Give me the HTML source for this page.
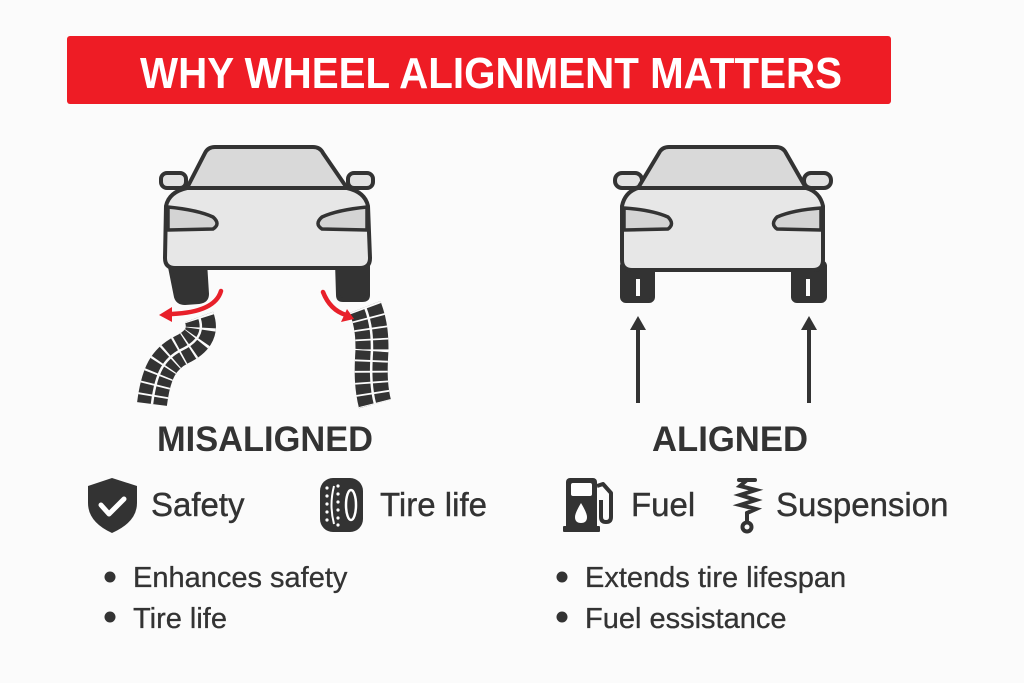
<!DOCTYPE html>
<html><head><meta charset="utf-8">
<style>
html,body{margin:0;padding:0;background:#fbfbfb;}
svg{display:block;}
</style></head>
<body>
<svg width="1024" height="683" viewBox="0 0 1024 683" xmlns="http://www.w3.org/2000/svg" font-family="Liberation Sans, Arial, sans-serif">
<rect width="1024" height="683" fill="#fbfbfb"/>
<!-- Banner -->
<rect x="67" y="36" width="824" height="68" rx="3" fill="#ee1c25"/>
<text x="140" y="88" font-size="44" font-weight="bold" fill="#ffffff" textLength="702" lengthAdjust="spacingAndGlyphs">WHY WHEEL ALIGNMENT MATTERS</text>

<!-- LEFT CAR -->
<g stroke="#333" stroke-width="4" stroke-linejoin="round">
  <rect x="161" y="173" width="25" height="15" rx="6" fill="#e2e2e2"/>
  <rect x="348" y="173" width="25" height="15" rx="6" fill="#e2e2e2"/>
  <path d="M169,262 L205,262 L207,294 Q207,301 199,302 L185,303 Q178,303 176,297 Z" fill="#333"/>
  <path d="M337,262 L368,262 L368,295 Q368,300 362,300 L343,300 Q338,300 338,295 Z" fill="#333"/>
  <path d="M187,188 L205,153 Q208,147 215,147 L313,147 Q320,147 323,153 L347,188 Z" fill="#d9d9d9"/>
  <path d="M187,188 L347,188 Q365,192 368,206 L370,258 Q370,268 360,268 L175,268 Q165,268 165,258 L166,206 Q169,192 187,188 Z" fill="#e7e7e7"/>
  <path d="M168,207 Q198,210 213,217 Q221,224 213,229 L168,230 Z" fill="#d4d4d4" stroke-width="3.5"/>
  <path d="M367,207 Q337,210 322,217 Q314,224 322,229 L367,230 Z" fill="#d4d4d4" stroke-width="3.5"/>
</g>
<!-- tire tracks -->
<g fill="none">
  <path d="M199,317 C205,333 196,343 181,350 C164,359 156,372 152,404" stroke="#333" stroke-width="30"/>
  <path d="M199,317 C205,333 196,343 181,350 C164,359 156,372 152,404" stroke="#fbfbfb" stroke-width="30" stroke-dasharray="1.8 9"/>
  <path d="M199,317 C205,333 196,343 181,350 C164,359 156,372 152,404" stroke="#fbfbfb" stroke-width="2.5"/>
  <path d="M365,307 C372,325 372,340 372,350 C371,365 370,385 375,404" stroke="#333" stroke-width="33"/>
  <path d="M365,307 C372,325 372,340 372,350 C371,365 370,385 375,404" stroke="#fbfbfb" stroke-width="33" stroke-dasharray="1.8 9"/>
  <path d="M365,307 C372,325 372,340 372,350 C371,365 370,385 375,404" stroke="#fbfbfb" stroke-width="2.5"/>
</g>
<!-- red arrows -->
<g fill="none" stroke="#e8202a" stroke-width="4.5" stroke-linecap="round">
  <path d="M221,291 Q215,312 172,314"/>
  <path d="M323,292 Q330,310 346,315"/>
</g>
<path d="M159,315 L172,307 L172,322 Z" fill="#e8202a"/>
<path d="M354,319 L341,322 L347,309 Z" fill="#e8202a"/>

<!-- RIGHT CAR -->
<g stroke="#333" stroke-width="4" stroke-linejoin="round">
  <rect x="615" y="173" width="27" height="15" rx="7" fill="#e2e2e2"/>
  <rect x="804" y="173" width="27" height="15" rx="7" fill="#e2e2e2"/>
  <rect x="622" y="262" width="31" height="39" rx="4" fill="#333"/>
  <rect x="793" y="262" width="32" height="39" rx="4" fill="#333"/>
  <path d="M638,188 L659,153 Q662,147 669,147 L776,147 Q783,147 786,153 L806,188 Z" fill="#d9d9d9"/>
  <path d="M638,188 L806,188 Q820,192 823,206 L823,260 Q823,270 813,270 L632,270 Q622,270 622,260 L622,206 Q625,192 638,188 Z" fill="#e7e7e7"/>
  <path d="M624,208 Q652,210 668,217 Q675,224 668,229 L624,230 Z" fill="#d4d4d4" stroke-width="3.5"/>
  <path d="M821,208 Q793,210 777,217 Q770,224 777,229 L821,230 Z" fill="#d4d4d4" stroke-width="3.5"/>
</g>
<rect x="636" y="279" width="4" height="17" fill="#fbfbfb"/>
<rect x="806" y="279" width="4" height="17" fill="#fbfbfb"/>
<g stroke="#333" stroke-width="4">
  <line x1="638" y1="403" x2="638" y2="326"/>
  <line x1="809" y1="403" x2="809" y2="326"/>
</g>
<path d="M638,316 L646,330 L630,330 Z" fill="#333"/>
<path d="M809,316 L817,330 L801,330 Z" fill="#333"/>

<!-- headings -->
<text x="265" y="451" font-size="35" font-weight="bold" fill="#333" text-anchor="middle" textLength="216" lengthAdjust="spacingAndGlyphs">MISALIGNED</text>
<text x="730" y="451" font-size="35" font-weight="bold" fill="#333" text-anchor="middle" textLength="156" lengthAdjust="spacingAndGlyphs">ALIGNED</text>

<!-- shield -->
<path d="M112,478 L137,486 L137,503 Q137,522 112,533 Q88,522 88,503 L88,486 Z" fill="#333"/>
<path d="M101,505 L109,514 L124,499" fill="none" stroke="#fff" stroke-width="5" stroke-linecap="round" stroke-linejoin="round"/>
<text x="151" y="516" font-size="33" fill="#333" stroke="#333" stroke-width="0.4">Safety</text>

<!-- tire -->
<rect x="320" y="478" width="43" height="54" rx="13" fill="#333"/>
<g fill="#fff">
  <circle cx="327" cy="488" r="1.6"/><circle cx="327" cy="496" r="1.6"/><circle cx="327" cy="504" r="1.6"/>
  <circle cx="327" cy="512" r="1.6"/><circle cx="327" cy="520" r="1.6"/>
  <circle cx="338" cy="486" r="1.6"/><circle cx="338" cy="494" r="1.6"/><circle cx="338" cy="502" r="1.6"/>
  <circle cx="338" cy="510" r="1.6"/><circle cx="338" cy="518" r="1.6"/><circle cx="338" cy="525" r="1.6"/>
</g>
<path d="M334,486 Q329,505 334,524" fill="none" stroke="#fff" stroke-width="2"/>
<ellipse cx="351" cy="505" rx="5" ry="15" fill="none" stroke="#fff" stroke-width="2.5"/>
<text x="380" y="516" font-size="33" fill="#333" stroke="#333" stroke-width="0.4">Tire life</text>

<!-- fuel pump -->
<rect x="566" y="478" width="31" height="52" rx="4" fill="#333"/>
<rect x="571" y="483" width="21" height="13" rx="2" fill="#fff"/>
<path d="M581,503 Q575,513 575,517 Q575,523 581,523 Q587,523 587,517 Q587,513 581,503 Z" fill="#fff"/>
<rect x="563" y="526" width="37" height="6" rx="1" fill="#333"/>
<path d="M597,486 L603,484 L611,493 L611,517 Q611,522 606,522 Q601,522 601,517 L601,500" fill="none" stroke="#333" stroke-width="4" stroke-linejoin="round"/>
<text x="631" y="516" font-size="33" fill="#333" stroke="#333" stroke-width="0.4">Fuel</text>

<!-- suspension -->
<g stroke="#333" stroke-width="4" stroke-linecap="round" fill="none">
  <line x1="739" y1="480" x2="755" y2="480"/>
  <path d="M747,480 L740,486 L756,490 L740,495 L756,500 L740,505 L756,509 L747,513"/>
  <line x1="747" y1="513" x2="747" y2="522"/>
  <circle cx="747" cy="527" r="4.5"/>
</g>
<text x="776" y="516" font-size="33" fill="#333" stroke="#333" stroke-width="0.4">Suspension</text>

<!-- bullets -->
<g fill="#333">
  <circle cx="110" cy="577" r="5.5"/>
  <circle cx="110" cy="617" r="5.5"/>
  <circle cx="562" cy="577" r="5.5"/>
  <circle cx="562" cy="617" r="5.5"/>
</g>
<g font-size="29" fill="#333" stroke="#333" stroke-width="0.3">
  <text x="133" y="587">Enhances safety</text>
  <text x="133" y="628">Tire life</text>
  <text x="585" y="587">Extends tire lifespan</text>
  <text x="585" y="628">Fuel essistance</text>
</g>
</svg>
</body></html>
